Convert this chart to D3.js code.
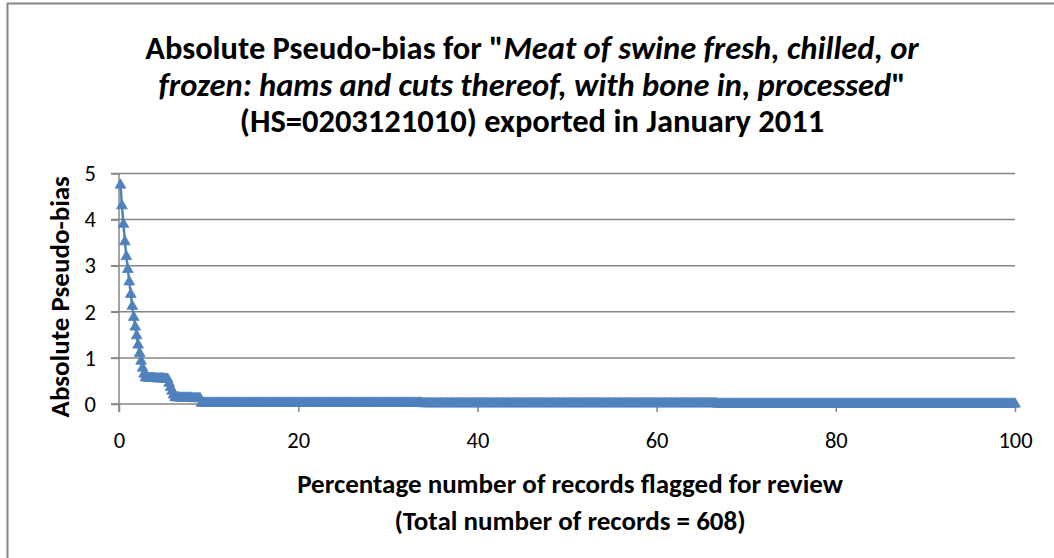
<!DOCTYPE html>
<html>
<head>
<meta charset="utf-8">
<script src="https://cdn.jsdelivr.net/npm/d3@7"></script>
<style>
  html, body { margin: 0; padding: 0; background: #fff; }
  svg { display: block; font-family: Carlito, Lato, "Open Sans", sans-serif; }
</style>
</head>
<body>
<div id="chart"></div>
<script>
// ---- data ----
const totalRecords = 608;
// absolute pseudo-bias of the records, in the order they are flagged (first 55 records)
const headValues = [
  4.75, 4.30, 3.90, 3.52, 3.20, 2.92, 2.65, 2.38, 2.12, 1.88,
  1.67, 1.48, 1.28, 1.10, 0.93, 0.78, 0.65,
  0.57, 0.57, 0.56, 0.56, 0.56, 0.56, 0.56, 0.55, 0.55, 0.55,
  0.55, 0.55, 0.55, 0.54, 0.54, 0.54,
  0.45, 0.36, 0.28, 0.20,
  0.14, 0.14, 0.14, 0.13, 0.13, 0.13, 0.13, 0.13, 0.13, 0.13,
  0.13, 0.13, 0.12, 0.12, 0.12, 0.12, 0.12, 0.12
];
// remaining records: [value, number of records]
const tailRuns = [[0.02, 150], [0.01, 200], [0.0, 203]];
const xTicks = [0, 20, 40, 60, 80, 100];
const yTicks = [0, 1, 2, 3, 4, 5];
const titleLines = [
  [["Absolute Pseudo-bias for \"", false], ["Meat of swine fresh, chilled, or", true]],
  [["frozen: hams and cuts thereof, with bone in, processed", true], ["\"", false]],
  [["(HS=0203121010) exported in January 2011", false]]
];
const yTitle = "Absolute Pseudo-bias";
const xTitle1 = "Percentage number of records flagged for review";
const xTitle2 = "(Total number of records = " + totalRecords + ")";

// ---- build series ----
const values = headValues.slice();
tailRuns.forEach(([v, n]) => { for (let k = 0; k < n; k++) values.push(v); });
const points = values.map((v, i) => ({ x: (i + 1) / totalRecords * 100, y: v }));

// ---- layout ----
const W = 1054, H = 558;
const svg = d3.select("#chart").append("svg").attr("width", W).attr("height", H);

svg.append("rect").attr("x", 7.5).attr("y", 3.5).attr("width", W + 20).attr("height", H + 20)
  .attr("fill", "#fff").attr("stroke", "#868686").attr("stroke-width", 2);

const x = d3.scaleLinear().domain([0, 100]).range([119, 1015]);
const y = d3.scaleLinear().domain([0, 5]).range([404, 173.5]);
const gray = "#868686";
const font = "Carlito, Lato, sans-serif";

// gridlines
svg.append("g").selectAll("line").data(yTicks).join("line")
  .attr("x1", x(0) - 8).attr("x2", x(100))
  .attr("y1", d => y(d)).attr("y2", d => y(d))
  .attr("stroke", gray).attr("stroke-width", 1.5);

// y axis
const yAxis = svg.append("g").attr("transform", `translate(${x(0)},0)`)
  .call(d3.axisLeft(y).tickValues(yTicks).tickSize(8).tickPadding(15).tickFormat(d3.format("d")));
yAxis.select(".domain").remove();
yAxis.append("line").attr("x1", 0).attr("x2", 0).attr("y1", y(5)).attr("y2", y(0) + 8)
  .attr("stroke", gray).attr("stroke-width", 1.5);
yAxis.selectAll(".tick line").attr("stroke", gray).attr("stroke-width", 1.5);
yAxis.selectAll(".tick text").attr("font-size", 22.5).attr("fill", "#000").attr("font-family", font);

// x axis
const xAxis = svg.append("g").attr("transform", `translate(0,${y(0)})`)
  .call(d3.axisBottom(x).tickValues(xTicks).tickSize(8).tickPadding(20).tickFormat(d3.format("d")));
xAxis.select(".domain").remove();
xAxis.selectAll(".tick line").attr("stroke", gray).attr("stroke-width", 1.5);
xAxis.selectAll(".tick text").attr("font-size", 22.5).attr("fill", "#000").attr("font-family", font);

// series line
const blue = "#4F81BD";
svg.append("path").datum(points)
  .attr("d", d3.line().x(d => x(d.x)).y(d => y(d.y)))
  .attr("fill", "none").attr("stroke", blue).attr("stroke-width", 2.5).attr("stroke-linejoin", "round");

// triangle markers
const tri = d3.symbol().type(d3.symbolTriangle).size(50);
svg.append("g").selectAll("path").data(points).join("path")
  .attr("d", tri)
  .attr("transform", d => `translate(${x(d.x)},${y(d.y)})`)
  .attr("fill", blue).attr("stroke", blue).attr("stroke-width", 0.8);

// title
const title = svg.append("text").attr("text-anchor", "middle").attr("font-weight", "bold")
  .attr("font-size", 32.5).attr("fill", "#000");
titleLines.forEach((parts, li) => {
  parts.forEach(([txt, it], pi) => {
    const t = title.append("tspan").text(txt).attr("font-style", it ? "italic" : "normal");
    if (pi === 0) t.attr("x", 532).attr("y", 59 + li * 36.5);
  });
});

// axis titles
svg.append("text").attr("transform", `translate(69,${(y(0) + y(5)) / 2 + 8}) rotate(-90)`)
  .attr("text-anchor", "middle").attr("font-weight", "bold").attr("font-size", 27).text(yTitle);
svg.append("text").attr("x", 570).attr("y", 493).attr("text-anchor", "middle")
  .attr("font-weight", "bold").attr("font-size", 27).text(xTitle1);
svg.append("text").attr("x", 570).attr("y", 530).attr("text-anchor", "middle")
  .attr("font-weight", "bold").attr("font-size", 27).text(xTitle2);
</script>
</body>
</html>
